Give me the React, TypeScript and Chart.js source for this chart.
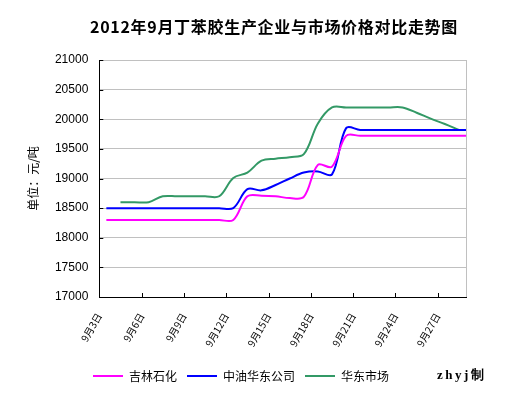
import React, { useEffect, useRef } from "react";
import { Chart, registerables } from "chart.js";

Chart.register(...registerables);

const TITLE = "2012年9月丁苯胶生产企业与市场价格对比走势图";
const Y_TITLE = "单位：元/吨";
const CREDIT = "zhyj制";

// days of September 2012 (one value per day)
const days = [3, 4, 5, 6, 7, 8, 9, 10, 11, 12, 13, 14, 15, 16, 17, 18, 19, 20, 21, 22, 23, 24, 25, 26, 27, 28, 29];
const tickDays = [3, 6, 9, 12, 15, 18, 21, 24, 27];
const tickLabels = ["9月3日", "9月6日", "9月9日", "9月12日", "9月15日", "9月18日", "9月21日", "9月24日", "9月27日"];
const seriesNames = ["吉林石化", "中油华东公司", "华东市场"];

const jilin = [
  18300, 18300, 18300, 18300, 18300, 18300, 18300, 18300, 18300, 18300,
  18700, 18710, 18700, 18670, 18690, 19230, 19200, 19720, 19720, 19720,
  19720, 19720, 19720, 19720, 19720, 19720, 19720,
];
const zhongyou = [
  18500, 18500, 18500, 18500, 18500, 18500, 18500, 18500, 18500, 18500,
  18820, 18800, 18890, 19000, 19100, 19120, 19070, 19850, 19820, 19820,
  19820, 19820, 19820, 19820, 19820, 19820, 19820,
];
const huadong = [
  null, 18600, 18600, 18600, 18700, 18700, 18700, 18700, 18700, 19010,
  19100, 19300, 19335, 19360, 19410, 19930, 20200, 20200, 20200, 20200,
  20200, 20200, 20110, 20010, 19920, 19820, null,
];

const colors = ["#ff00ff", "#0000ff", "#339966"];
const FIRST_DAY = 3;

const toPoints = (vals: (number | null)[]) =>
  days.map((d, i) => ({ x: d - FIRST_DAY + 0.5, y: vals[i] }));

const decorPlugin = {
  id: "decor",
  afterDraw(chart: any) {
    const { ctx, chartArea, scales } = chart;
    const { left, right, top, bottom } = chartArea;
    ctx.save();
    // right border of plot area
    ctx.strokeStyle = "#c0c0c0";
    ctx.lineWidth = 1;
    ctx.beginPath();
    ctx.moveTo(Math.round(right) + 0.5, top);
    ctx.lineTo(Math.round(right) + 0.5, bottom);
    ctx.stroke();
    // inner tick marks
    ctx.strokeStyle = "#000";
    ctx.beginPath();
    scales.x.ticks.forEach((t: any) => {
      const px = Math.round(scales.x.getPixelForValue(t.value)) + 0.5;
      if (px > left + 2) {
        ctx.moveTo(px, bottom);
        ctx.lineTo(px, bottom - 4);
      }
    });
    scales.y.ticks.forEach((t: any) => {
      const py = Math.round(scales.y.getPixelForValue(t.value)) + 0.5;
      ctx.moveTo(left, py);
      ctx.lineTo(left + 4, py);
    });
    ctx.stroke();
    // title
    ctx.fillStyle = "#000";
    ctx.font = 'bold 16px "Noto Sans CJK SC", sans-serif';
    (ctx as any).letterSpacing = "0.7px";
    ctx.textAlign = "center";
    ctx.textBaseline = "middle";
    ctx.fillText(TITLE, 274, 27);
    // credit
    ctx.font = 'bold 13px "Liberation Serif", serif';
    (ctx as any).letterSpacing = "2.5px";
    ctx.textAlign = "left";
    ctx.fillText(CREDIT, 437, 376);
    ctx.restore();
  },
};

export default function App() {
  const canvasRef = useRef<HTMLCanvasElement | null>(null);

  useEffect(() => {
    document.body.style.margin = "0";
    const canvas = canvasRef.current;
    if (!canvas) return;
    const seriesVals = [jilin, zhongyou, huadong];
    const chart = new Chart(canvas, {
      type: "line",
      data: {
        datasets: seriesNames.map((name, i) => ({
          label: name,
          data: toPoints(seriesVals[i]),
          borderColor: colors[i],
          backgroundColor: colors[i],
          borderWidth: 2,
          pointRadius: 0,
          pointStyle: "line",
          tension: 0.35,
          spanGaps: false,
          fill: false,
        })),
      },
      options: {
        animation: false,
        responsive: false,
        maintainAspectRatio: false,
        layout: { padding: { left: 16, right: 58, top: 60, bottom: 3 } },
        plugins: {
          title: { display: false },
          tooltip: { enabled: false },
          legend: {
            position: "bottom",
            labels: {
              usePointStyle: true,
              pointStyle: "line",
              pointStyleWidth: 30,
              padding: 10,
              color: "#000",
              font: { size: 12, family: '"Noto Sans CJK SC", sans-serif' },
            },
          },
        },
        scales: {
          x: {
            type: "linear",
            min: 0,
            max: 26,
            afterBuildTicks: (scale: any) => {
              scale.ticks = tickDays.map((d) => ({ value: d - FIRST_DAY }));
            },
            afterFit: (scale: any) => {
              scale.height = 63;
            },
            grid: { display: false, drawTicks: false },
            border: { color: "#000", width: 1 },
            ticks: {
              autoSkip: false,
              minRotation: 60,
              maxRotation: 60,
              padding: 14,
              color: "#000",
              font: { size: 10, family: '"Noto Sans CJK SC", sans-serif' },
              callback: (v: any) => {
                const idx = tickDays.indexOf(Number(v) + FIRST_DAY);
                return idx >= 0 ? tickLabels[idx] : "";
              },
            },
          },
          y: {
            min: 17000,
            max: 21000,
            afterFit: (scale: any) => {
              scale.width = 83.3;
            },
            grid: { color: "#c0c0c0", drawTicks: false },
            border: { color: "#000", width: 1 },
            ticks: {
              stepSize: 500,
              padding: 11,
              color: "#000",
              font: { size: 12, family: '"Liberation Sans", Arial, sans-serif' },
              callback: (v: any) => String(v),
            },
            title: {
              display: true,
              text: Y_TITLE,
              color: "#000",
              padding: { top: 10, bottom: 0 },
              font: { size: 12, family: '"Noto Sans CJK SC", sans-serif' },
            },
          },
        },
      },
      plugins: [decorPlugin],
    });
    return () => chart.destroy();
  }, []);

  return (
    <div style={{ width: 524, height: 395 }}>
      <canvas ref={canvasRef} width={524} height={395} style={{ display: "block" }} />
    </div>
  );
}
